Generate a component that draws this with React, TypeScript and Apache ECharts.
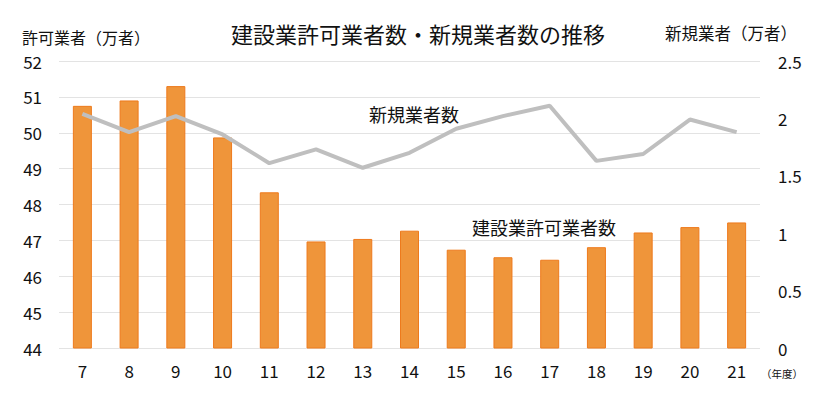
import React, { useEffect, useRef } from "react";
import * as echarts from "echarts";

const years = ["7", "8", "9", "10", "11", "12", "13", "14", "15", "16", "17", "18", "19", "20", "21"];
const licensed = [50.75, 50.9, 51.3, 49.87, 48.34, 46.97, 47.04, 47.27, 46.74, 46.53, 46.46, 46.81, 47.22, 47.37, 47.5];
const newcomers = [2.04, 1.88, 2.02, 1.86, 1.61, 1.73, 1.57, 1.7, 1.91, 2.02, 2.11, 1.63, 1.69, 1.99, 1.88];

const FONT = '"Noto Sans CJK JP", "Noto Sans", sans-serif';

export default function App() {
  const ref = useRef<HTMLDivElement>(null);
  useEffect(() => {
    if (!ref.current) return;
    const chart = echarts.init(ref.current, null, { renderer: "svg" });
    chart.setOption({
      animation: false,
      backgroundColor: "#ffffff",
      textStyle: { fontFamily: FONT },
      grid: { left: 59, right: 76, top: 61, bottom: 49, containLabel: false },
      xAxis: {
        type: "category",
        data: years,
        boundaryGap: true,
        axisLine: { show: false },
        axisTick: { show: false },
        axisLabel: { color: "#111", fontSize: 17, fontFamily: FONT, margin: 14 },
      },
      yAxis: [
        {
          type: "value",
          min: 44,
          max: 52,
          interval: 1,
          axisLine: { show: false },
          axisTick: { show: false },
          axisLabel: { color: "#111", fontSize: 17, lineHeight: 17, fontFamily: FONT, margin: 17 },
          splitLine: { lineStyle: { color: "#E3E3E3", width: 1 } },
        },
        {
          type: "value",
          min: 0,
          max: 2.5,
          interval: 0.5,
          axisLine: { show: false },
          axisTick: { show: false },
          axisLabel: { color: "#111", fontSize: 17, lineHeight: 17, fontFamily: FONT, margin: 18 },
          splitLine: { show: false },
        },
      ],
      series: [
        {
          type: "bar",
          yAxisIndex: 0,
          data: licensed,
          barWidth: 19,
          itemStyle: { color: "#EF953A", borderColor: "#EE7A1C", borderWidth: 1 },
        },
        {
          type: "line",
          yAxisIndex: 1,
          data: newcomers,
          symbol: "none",
          lineStyle: { color: "#BFBFBF", width: 4 },
        },
      ],
      graphic: [
        {
          type: "text",
          x: 418,
          y: 33,
          style: { text: "建設業許可業者数・新規業者数の推移", fontSize: 22, lineHeight: 22, fontFamily: FONT, fill: "#111", align: "center", verticalAlign: "middle" },
        },
        {
          type: "text",
          x: 22,
          y: 37,
          style: { text: "許可業者（万者）", fontSize: 16, lineHeight: 16, fontFamily: FONT, fill: "#111", align: "left", verticalAlign: "middle" },
        },
        {
          type: "text",
          x: 665,
          y: 33,
          style: { text: "新規業者（万者）", fontSize: 16.5, lineHeight: 16.5, fontFamily: FONT, fill: "#111", align: "left", verticalAlign: "middle" },
        },
        {
          type: "text",
          x: 761,
          y: 373,
          style: { text: "（年度）", fontSize: 10.5, lineHeight: 11, fontFamily: FONT, fill: "#111", align: "left", verticalAlign: "middle" },
        },
        {
          type: "text",
          x: 369,
          y: 114,
          style: { text: "新規業者数", fontSize: 18, lineHeight: 18, fontFamily: FONT, fill: "#111", align: "left", verticalAlign: "middle" },
        },
        {
          type: "text",
          x: 472,
          y: 227,
          style: { text: "建設業許可業者数", fontSize: 18, lineHeight: 18, fontFamily: FONT, fill: "#111", align: "left", verticalAlign: "middle" },
        },
      ],
    });
    return () => chart.dispose();
  }, []);
  return <div ref={ref} style={{ width: 836, height: 397, position: "fixed", left: 0, top: 0 }} />;
}
